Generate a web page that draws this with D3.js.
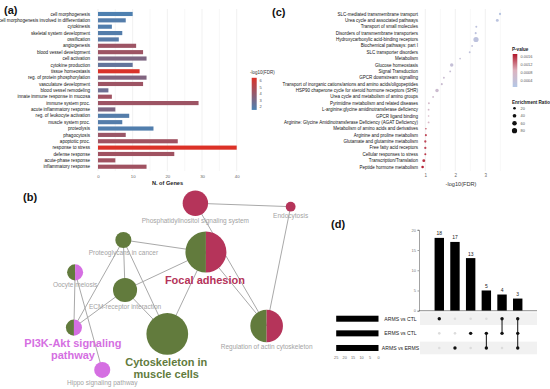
<!DOCTYPE html>
<html>
<head>
<meta charset="utf-8">
<script src="https://cdn.jsdelivr.net/npm/d3@7"></script>
<style>
  body { margin: 0; background: #fff; }
  svg { display: block; font-family: "Liberation Sans", Arial, sans-serif; }
</style>
</head>
<body>
<div id="viz_div"></div>
<script>
// ---------------------------------------------------------------------------------------------------------------------------------
// DATA
// ---------------------------------------------------------------------------------------------------------------------------------
// (a) GO terms
const goTerms = ["cell morphogenesis", "cell morphogenesis involved in differentiation", "cytokinesis",
  "skeletal system development", "ossification", "angiogenesis", "blood vessel development", "cell activation",
  "cytokine production", "tissue homeostasis", "reg. of protein phosphorylation", "vasculature development",
  "blood vessel remodeling", "innate immune response in mucosa", "immune system proc.", "acute inflammatory response",
  "reg. of leukocyte activation", "muscle system proc.", "proteolysis", "phagocytosis", "apoptotic proc.",
  "response to stress", "defense response", "acute-phase response", "inflammatory response"];
const goGenes = [10, 8, 4, 7, 6, 11, 13, 14, 10, 12, 14, 13, 3, 4, 29, 5, 9, 7, 16, 8, 23, 40, 22, 5, 14];
const goFDR = [1.8, 2.0, 1.9, 2.0, 2.1, 4.3, 4.3, 3.3, 2.5, 6.2, 3.4, 4.3, 2.8, 4.4, 4.3, 3.3, 2.0, 2.0, 1.9, 4.2, 4.4, 6.3, 4.4, 4.4, 4.4];
const goTicks = [0, 10, 20, 30, 40];
const goLegendTicks = [2, 3, 4, 5, 6];

// (c) pathways
const pathways = ["SLC-mediated transmembrane transport", "Urea cycle and associated pathways",
  "Transport of small molecules", "Disorders of transmembrane transporters", "Hydroxycarboxylic acid-binding receptors",
  "Biochemical pathways: part I", "SLC transporter disorders", "Metabolism", "Glucose homeostasis",
  "Signal Transduction", "GPCR downstream signalling",
  "Transport of inorganic cations/anions and amino acids/oligopeptides",
  "HSP90 chaperone cycle for steroid hormone receptors (SHR)", "Urea cycle and metabolism of amino groups",
  "Pyrimidine metabolism and related diseases", "L-arginine:glycine amidinotransferase deficiency",
  "GPCR ligand binding", "Arginine: Glycine Amidinotransferase Deficiency (AGAT Deficiency)",
  "Metabolism of amino acids and derivatives", "Arginine and proline metabolism",
  "Glutamate and glutamine metabolism", "Free fatty acid receptors", "Cellular responses to stress",
  "Transcription/Translation", "Peptide hormone metabolism"];
const pathFDR = [3.49, 3.40, 2.70, 2.68, 2.69, 2.56, 2.48, 2.16, 1.88, 1.83, 1.62, 1.55, 1.39, 1.26, 1.12, 1.11, 1.11, 1.11, 1.02, 1.02, 1.00, 1.00, 1.00, 0.95, 0.91];
const pathP = [0.00015, 0.0002, 0.00025, 0.00025, 0.00025, 0.0003, 0.0003, 0.0004, 0.0004, 0.00045, 0.0005, 0.0005, 0.00055, 0.0006, 0.0007, 0.0007, 0.0008, 0.0008, 0.0014, 0.0015, 0.0015, 0.0015, 0.0016, 0.0016, 0.0017];
const pathRatio = [15, 25, 12, 12, 80, 10, 10, 8, 35, 10, 10, 12, 35, 10, 10, 10, 8, 10, 8, 12, 15, 15, 12, 25, 20];
const pathTicks = [1, 2, 3];
const pLegendTicks = [0.0004, 0.0008, 0.0012, 0.0016];
const ratioLegend = [20, 40, 60, 80];

// (b) network
const netNodes = ["Phosphatidylinositol signaling system", "Endocytosis", "Proteoglycans in cancer", "Focal adhesion",
  "Oocyte meiosis", "ECM-receptor interaction", "PI3K-Akt signaling pathway", "Cytoskeleton in muscle cells",
  "Hippo signaling pathway", "Regulation of actin cytoskeleton"];
const netSize = [10, 1.5, 4, 26, 4, 9, 4, 27, 4, 16.5];
const netGroups = [["red"], ["red"], ["green"], ["green", "red"], ["green", "violet"], ["green"],
  ["green", "violet"], ["green"], ["violet"], ["green", "red"]];
const netLayoutX = [56.4, 96.1, 26.4, 60.8, 6.3, 27.1, 5.8, 44.7, 17.6, 86.1];
const netLayoutY = [1.8, 3.7, 22.2, 28.9, 40.2, 50, 70.9, 74.4, 94.4, 70];
const netLinks = [[0, 1], [0, 9], [1, 9], [2, 3], [2, 5], [2, 7], [2, 6], [5, 3], [5, 7], [5, 6], [3, 7], [3, 9], [4, 6], [4, 8]];
const netHighlights = { 3: ["Focal adhesion"], 6: ["PI3K-Akt signaling", "pathway"], 7: ["Cytoskeleton in", "muscle cells"] };

// (d) upset
const setNames = ["ARMS vs CTL", "ERMS vs CTL", "ARMS vs ERMS"];
const setSizes = [25, 25, 25];
const interCounts = [18, 17, 13, 5, 4, 3];
const interSets = [[0], [2], [1], [1, 2], [0, 1], [0, 1, 2]];
const upTicks = [0, 5, 10, 15, 20];
const setTicks = [25, 20, 15, 10, 5, 0];

const groupColor = { green: "#627b3d", red: "#b5345a", violet: "#d56fe2" };

// ---------------------------------------------------------------------------------------------------------------------------------
const svg = d3.select("#viz_div")
  .append("svg")
  .attr("width", 550)
  .attr("height", 389);

function panelLabel(x, y, t) {
  svg.append("text").attr("x", x).attr("y", y).attr("font-size", "11px").attr("font-weight", "bold")
    .attr("fill", "#111").text(t);
}

// PANEL (A) BAR CHART
// ---------------------------------------------------------------------------------------------------------------------------------
panelLabel(4, 14, "(a)");
const xa = d3.scaleLinear([0, 40], [98, 236.7]);
const ya = d3.scaleBand(goTerms, [10.8, 169.9]).paddingInner(0.35).paddingOuter(0.175);
const ca = d3.scaleLinear([1.7, 6.3], ["#4b82b3", "#dc3127"]).clamp(true);

const ga = svg.append("g");
ga.selectAll("line.minor").data(d3.range(0, 45, 5)).enter().append("line")
  .attr("x1", d => xa(d)).attr("x2", d => xa(d)).attr("y1", 9).attr("y2", 171)
  .attr("stroke", d => d % 10 === 0 ? "#e6e6e6" : "#f2f2f2").attr("stroke-width", 0.6);

ga.selectAll("rect").data(goTerms).enter().append("rect")
  .attr("x", xa(0))
  .attr("y", d => ya(d))
  .attr("width", (d, i) => xa(goGenes[i]) - xa(0))
  .attr("height", ya.bandwidth())
  .style("fill", (d, i) => ca(goFDR[i]));

ga.selectAll("text.lab").data(goTerms).enter().append("text")
  .attr("x", 90).attr("y", d => ya(d) + ya.bandwidth() / 2)
  .attr("dy", "0.35em").attr("text-anchor", "end")
  .attr("font-size", "4.6px").attr("fill", "#111").text(d => d);

svg.append("g").attr("transform", "translate(0,170.5)")
  .call(d3.axisBottom(xa).tickValues(goTicks).tickSize(0).tickPadding(4))
  .call(g => g.select(".domain").remove())
  .selectAll("text").attr("font-size", "4.3px").attr("fill", "#666");

svg.append("text").attr("x", 167.5).attr("y", 184.5).attr("text-anchor", "middle")
  .attr("font-size", "5.6px").attr("font-weight", "bold").attr("fill", "#222").text("N. of Genes");

// colour legend
const defs = svg.append("defs");
const gradA = defs.append("linearGradient").attr("id", "gradA").attr("x1", 0).attr("x2", 0).attr("y1", 1).attr("y2", 0);
const la = d3.scaleLinear([2, 6], [106.7, 81]);
[1.5, 6.5].forEach((v, i) => gradA.append("stop").attr("offset", i).attr("stop-color", ca(v)));
svg.append("rect").attr("x", 251.7).attr("y", la(6.5)).attr("width", 5).attr("height", la(1.5) - la(6.5))
  .attr("fill", "url(#gradA)");
svg.append("text").attr("x", 250).attr("y", 74).attr("font-size", "4.5px").attr("fill", "#333").text("-log10(FDR)");
svg.selectAll("text.la").data(goLegendTicks).enter().append("text")
  .attr("x", 259.5).attr("y", d => la(d)).attr("dy", "0.35em")
  .attr("font-size", "4px").attr("fill", "#555").text(d => d);

// PANEL (C) DOT PLOT
// ---------------------------------------------------------------------------------------------------------------------------------
panelLabel(272, 16, "(c)");
const xc = d3.scaleLinear([1, 3], [425.3, 485.3]);
const yc = d3.scalePoint(pathways, [14, 167]);
const cc = d3.scaleLinear([0.00005, 0.0009, 0.00175], ["#b3c7e6", "#dcb3bf", "#b2182b"]);
const rc = d3.scaleSqrt([0, 80], [0, 2.6]);

svg.selectAll("line.gc").data(d3.range(1, 4, 0.5)).enter().append("line")
  .attr("x1", d => xc(d)).attr("x2", d => xc(d)).attr("y1", 9).attr("y2", 171)
  .attr("stroke", d => d % 1 === 0 ? "#e6e6e6" : "#f2f2f2").attr("stroke-width", 0.6);

svg.selectAll("circle.pc").data(pathways).enter().append("circle")
  .attr("cx", (d, i) => xc(pathFDR[i]))
  .attr("cy", d => yc(d))
  .attr("r", (d, i) => rc(pathRatio[i]))
  .style("fill", (d, i) => cc(pathP[i]));

svg.selectAll("text.pl").data(pathways).enter().append("text")
  .attr("x", 418).attr("y", d => yc(d)).attr("dy", "0.35em").attr("text-anchor", "end")
  .attr("font-size", "4.5px").attr("fill", "#111").text(d => d);

svg.append("g").attr("transform", "translate(0,170)")
  .call(d3.axisBottom(xc).tickValues(pathTicks).tickSize(0).tickPadding(4).tickFormat(d3.format("d")))
  .call(g => g.select(".domain").remove())
  .selectAll("text").attr("font-size", "4.5px").attr("fill", "#666");

svg.append("text").attr("x", 461).attr("y", 185.5).attr("text-anchor", "middle")
  .attr("font-size", "5.6px").attr("fill", "#333").text("-log10(FDR)");

// P-value legend
const lc = d3.scaleLinear([0.0004, 0.0016], [80.3, 57]);
const gradC = defs.append("linearGradient").attr("id", "gradC").attr("x1", 0).attr("x2", 0).attr("y1", 1).attr("y2", 0);
d3.range(0, 1.01, 0.1).forEach(t => {
  const v = lc.invert(87 - t * 33);
  gradC.append("stop").attr("offset", t).attr("stop-color", cc(v));
});
svg.append("rect").attr("x", 512.7).attr("y", 54).attr("width", 4.6).attr("height", 33).attr("fill", "url(#gradC)");
svg.append("text").attr("x", 512).attr("y", 51).attr("font-size", "4.6px").attr("font-weight", "bold")
  .attr("fill", "#222").text("P-value");
svg.selectAll("text.lc").data(pLegendTicks).enter().append("text")
  .attr("x", 520.5).attr("y", d => lc(d)).attr("dy", "0.35em")
  .attr("font-size", "3.9px").attr("fill", "#555").text(d => d3.format(".4f")(d));

// Enrichment ratio legend
svg.append("text").attr("x", 512).attr("y", 103.5).attr("font-size", "4.6px").attr("font-weight", "bold")
  .attr("fill", "#222").text("Enrichment Ratio");
const lr = d3.scalePoint(ratioLegend, [108.3, 130.7]);
svg.selectAll("circle.lr").data(ratioLegend).enter().append("circle")
  .attr("cx", 514.5).attr("cy", d => lr(d)).attr("r", d => rc(d)).attr("fill", "#111");
svg.selectAll("text.lr").data(ratioLegend).enter().append("text")
  .attr("x", 520.5).attr("y", d => lr(d)).attr("dy", "0.35em")
  .attr("font-size", "3.9px").attr("fill", "#555").text(d => d);

// PANEL (B) NETWORK
// ---------------------------------------------------------------------------------------------------------------------------------
panelLabel(23, 201, "(b)");
const xn = d3.scaleLinear([0, 100], [60, 300]);
const yn = d3.scaleLinear([0, 100], [200, 380]);
const rn = d3.scaleSqrt([0, 30], [0, 22]);
const nodes = netNodes.map((name, i) => ({
  name, i, x: xn(netLayoutX[i]), y: yn(netLayoutY[i]), r: rn(netSize[i]), groups: netGroups[i]
}));

svg.append("g").selectAll("line").data(netLinks).enter().append("line")
  .attr("x1", d => nodes[d[0]].x).attr("y1", d => nodes[d[0]].y)
  .attr("x2", d => nodes[d[1]].x).attr("y2", d => nodes[d[1]].y)
  .attr("stroke", "#a9a9a9").attr("stroke-width", 1);

const arc = d3.arc().innerRadius(0);
const gn = svg.append("g").selectAll("g").data(nodes).enter().append("g")
  .attr("transform", d => `translate(${d.x},${d.y})`);
gn.each(function (d) {
  const g = d3.select(this);
  if (d.groups.length === 1) {
    g.append("circle").attr("r", d.r).attr("fill", groupColor[d.groups[0]]);
  } else {
    g.append("path").attr("d", arc({ outerRadius: d.r, startAngle: Math.PI, endAngle: 2 * Math.PI }))
      .attr("fill", groupColor[d.groups[0]]);
    g.append("path").attr("d", arc({ outerRadius: d.r, startAngle: 0, endAngle: Math.PI }))
      .attr("fill", groupColor[d.groups[1]]);
  }
});

nodes.forEach(d => {
  const hl = netHighlights[d.i];
  if (hl) {
    const col = groupColor[d.groups[d.groups.length - 1]];
    hl.forEach((line, k) => {
      svg.append("text").attr("x", d.x - 1).attr("y", d.y + d.r + 11 + k * 12.5)
        .attr("text-anchor", "middle").attr("font-size", "11px").attr("font-weight", "bold")
        .attr("fill", col).text(line);
    });
  } else {
    svg.append("text").attr("x", d.x).attr("y", d.y + d.r + 6.8)
      .attr("text-anchor", "middle").attr("font-size", "6.5px").attr("fill", "#a3a3a3").text(d.name);
  }
});

// PANEL (D) UPSET PLOT
// ---------------------------------------------------------------------------------------------------------------------------------
panelLabel(331, 228, "(d)");
const xd = d3.scaleBand(d3.range(interCounts.length), [428.3, 528.7]).padding(0.4);
const yd = d3.scaleLinear([0, 20], [310.7, 229.8]);
const rowd = d3.scaleBand(setNames, [311.4, 355.3]);
const xs = d3.scaleLinear([0, 25], [378.5, 336.2]);

// stripes
svg.selectAll("rect.stripe").data(setNames.filter((d, i) => i % 2 === 0)).enter().append("rect")
  .attr("x", 420).attr("y", d => rowd(d) + 1).attr("width", 117).attr("height", rowd.bandwidth() - 2)
  .attr("fill", "#f1f1f1");

svg.selectAll("rect.ib").data(interCounts).enter().append("rect")
  .attr("x", (d, i) => xd(i)).attr("y", d => yd(d))
  .attr("width", xd.bandwidth()).attr("height", d => yd(0) - yd(d)).attr("fill", "#000");

svg.selectAll("text.ib").data(interCounts).enter().append("text")
  .attr("x", (d, i) => xd(i) + xd.bandwidth() / 2).attr("y", d => yd(d) - 2.5)
  .attr("text-anchor", "middle").attr("font-size", "5px").attr("fill", "#222").text(d => d);

svg.append("g").attr("transform", "translate(419,0)")
  .call(d3.axisLeft(yd).tickValues(upTicks).tickSize(1.5).tickPadding(1.5))
  .call(g => g.select(".domain").attr("stroke", "#444").attr("stroke-width", 0.5))
  .call(g => g.selectAll(".tick line").attr("stroke", "#444").attr("stroke-width", 0.5))
  .selectAll("text").attr("font-size", "4px").attr("fill", "#777");

svg.append("line").attr("x1", 419).attr("x2", 537).attr("y1", yd(0)).attr("y2", yd(0))
  .attr("stroke", "#444").attr("stroke-width", 0.6);

// matrix dots
interCounts.forEach((c, i) => {
  const cx = xd(i) + xd.bandwidth() / 2;
  const on = interSets[i];
  if (on.length > 1) {
    svg.append("line").attr("x1", cx).attr("x2", cx)
      .attr("y1", rowd(setNames[d3.min(on)]) + rowd.bandwidth() / 2)
      .attr("y2", rowd(setNames[d3.max(on)]) + rowd.bandwidth() / 2)
      .attr("stroke", "#111").attr("stroke-width", 1);
  }
  setNames.forEach((s, j) => {
    const active = on.includes(j);
    svg.append("circle").attr("cx", cx).attr("cy", rowd(s) + rowd.bandwidth() / 2)
      .attr("r", active ? 1.7 : 1.3).attr("fill", active ? "#111" : "#dcdcdc");
  });
});

// set size bars
svg.selectAll("rect.ss").data(setSizes).enter().append("rect")
  .attr("x", d => xs(d)).attr("y", (d, i) => rowd(setNames[i]) + rowd.bandwidth() / 2 - 3)
  .attr("width", d => xs(0) - xs(d)).attr("height", 6).attr("fill", "#000");

svg.selectAll("text.ss").data(setNames).enter().append("text")
  .attr("x", 400.5).attr("y", d => rowd(d) + rowd.bandwidth() / 2).attr("dy", "0.35em")
  .attr("text-anchor", "middle").attr("font-size", "5.1px").attr("fill", "#222").text(d => d);

svg.selectAll("text.st").data(setTicks).enter().append("text")
  .attr("x", d => xs(d)).attr("y", 358.8).attr("text-anchor", "middle")
  .attr("font-size", "3.8px").attr("fill", "#666").text(d => d);
</script>
</body>
</html>
